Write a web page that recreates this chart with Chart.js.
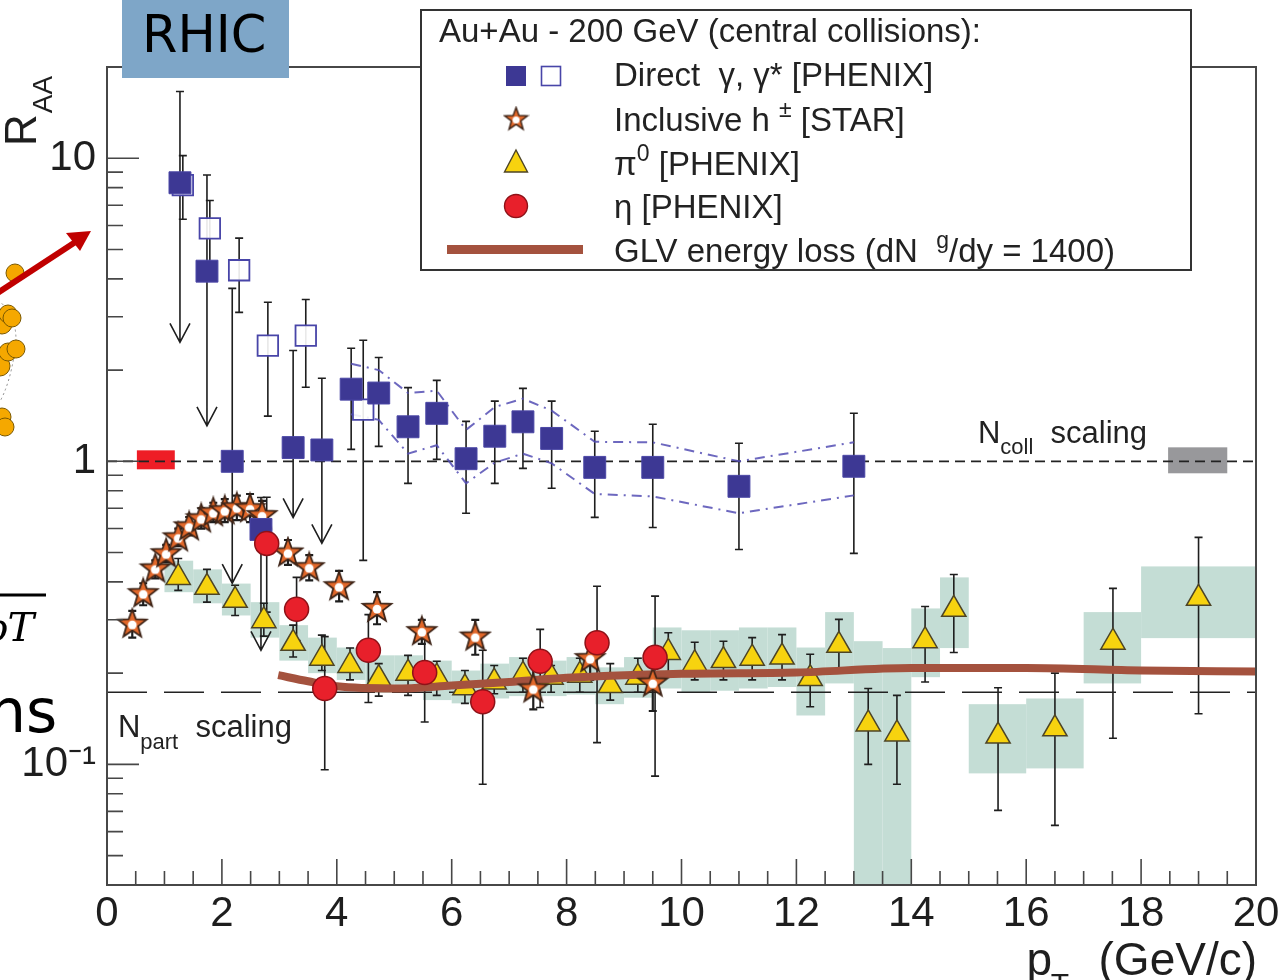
<!DOCTYPE html>
<html>
<head>
<meta charset="utf-8">
<title>R_AA at RHIC</title>
<script src="https://cdn.jsdelivr.net/npm/chart.js@4.4.1/dist/chart.umd.min.js"></script>
<style>
  body { margin: 0; background: #fff; overflow: hidden; }
  #wrap { position: relative; width: 1284px; height: 980px; }
  #canvas { position: absolute; left: 0; top: 0; }
  #deco { position: absolute; left: 0; top: 0; pointer-events: none; }
</style>
</head>
<body>
<div id="wrap">
  <canvas id="canvas" width="1284" height="980"></canvas>
  <svg id="deco" width="1284" height="980">
    <!-- bits of the slide that are cut off on the left -->
    <path d="M -2 300 Q 20 318 15 350 Q 10 385 -2 405" fill="none" stroke="#888" stroke-width="1" stroke-dasharray="2 3"/>
    <g fill="#f5a800" stroke="#7a5800" stroke-width="1">
      <circle cx="15" cy="273" r="9"/>
      <circle cx="2" cy="324" r="10"/>
      <circle cx="8" cy="314" r="9"/>
      <circle cx="12" cy="318" r="9"/>
      <circle cx="0" cy="366" r="10"/>
      <circle cx="8" cy="352" r="9"/>
      <circle cx="16" cy="349" r="9"/>
      <circle cx="2" cy="417" r="9"/>
      <circle cx="5" cy="427" r="9"/>
    </g>
    <line x1="-4" y1="294" x2="80" y2="239" stroke="#c00000" stroke-width="6"/>
    <polygon points="91,231 66,233 80,251" fill="#c00000"/>
    <line x1="0" y1="595" x2="46" y2="595" stroke="#000" stroke-width="3"/>
    <text x="-18" y="641" font-family="DejaVu Serif" font-style="italic" font-size="40">pT</text>
    <text x="-12" y="732" font-family="DejaVu Sans" font-size="60" fill="#000">ns</text>
    <rect x="122" y="0" width="167" height="78" fill="#7ea6c8"/>
    <text x="142" y="52" font-family="DejaVu Sans" font-size="51" fill="#000">RHIC</text>
  </svg>
</div>
<script>
"use strict";

// ---- data ----
// direct photons, PHENIX (filled squares); lim = 1 means the lower end is an upper-limit arrow
const dirX = [1.27, 1.74, 2.18, 2.68, 3.24, 3.74, 4.25, 4.73, 5.24, 5.74, 6.25, 6.75, 7.24, 7.74, 8.49, 9.50, 11.0, 13.0];
const dirY = [8.3, 4.24, 1.0, 0.596, 1.11, 1.09, 1.73, 1.68, 1.30, 1.44, 1.02, 1.21, 1.35, 1.19, 0.955, 0.955, 0.827, 0.963];
const dirHi = [16.6, 8.8, 3.72, 0.76, 2.32, 1.88, 2.36, 2.2, 1.75, 1.85, 1.355, 1.58, 1.74, 1.58, 1.256, 1.325, 1.147, 1.44];
const dirLo = [2.47, 1.31, 0.396, 0.238, 0.653, 0.536, 1.095, 1.12, 0.846, 1.015, 0.674, 0.846, 0.948, 0.815, 0.653, 0.605, 0.512, 0.497];
const dirLim = [1, 1, 1, 1, 1, 1, 0, 0, 0, 0, 0, 0, 0, 0, 0, 0, 0, 0];
// systematic band of the direct photons (dash-dot lines)
const bandX = [4.25, 4.73, 5.24, 5.74, 6.25, 6.75, 7.24, 7.74, 8.49, 9.50, 11.0, 13.0];
const bandUp = [2.1, 2.0, 1.68, 1.71, 1.27, 1.51, 1.61, 1.47, 1.16, 1.155, 1.0, 1.155];
const bandDn = [1.43, 1.37, 1.06, 1.13, 0.846, 0.99, 1.06, 0.985, 0.78, 0.766, 0.674, 0.772];

// virtual photons (open squares)
const gstX = [1.32, 1.79, 2.30, 2.80, 3.46, 4.46];
const gstY = [8.15, 5.87, 4.27, 2.41, 2.60, 1.48];
const gstHi = [10.2, 7.25, 5.45, 3.35, 3.42, 2.51];
const gstLo = [6.29, 4.5, 3.1, 1.41, 1.755, 0.471];

// inclusive charged hadrons, STAR
const hX = [0.44, 0.63, 0.84, 1.03, 1.24, 1.43, 1.64, 1.85, 2.05, 2.26, 2.49, 2.70, 3.15, 3.52, 4.04, 4.70, 5.48, 6.41, 7.42, 8.41, 9.50];
const hY = [0.291, 0.367, 0.443, 0.497, 0.561, 0.610, 0.648, 0.679, 0.689, 0.705, 0.70, 0.664, 0.50, 0.447, 0.387, 0.328, 0.275, 0.264, 0.178, 0.224, 0.186];
const hLo = [0.262, 0.335, 0.411, 0.465, 0.525, 0.57, 0.60, 0.63, 0.63, 0.64, 0.63, 0.60, 0.455, 0.405, 0.345, 0.29, 0.25, 0.23, 0.152, 0.19, 0.15];
const hHi = [0.321, 0.396, 0.471, 0.53, 0.60, 0.655, 0.70, 0.73, 0.75, 0.77, 0.78, 0.74, 0.55, 0.49, 0.435, 0.37, 0.30, 0.30, 0.21, 0.26, 0.22];

// pi0, PHENIX (triangles) with systematic boxes
const pi0X = [1.24, 1.74, 2.23, 2.73, 3.24, 3.74, 4.23, 4.73, 5.24, 5.74, 6.23, 6.74, 7.24, 7.73, 8.23, 8.76, 9.24, 9.77, 10.23, 10.73, 11.23, 11.75, 12.24, 12.74, 13.25, 13.75, 14.24, 14.74, 15.51, 16.50, 17.51, 19.0];
const pi0Y = [0.414, 0.384, 0.348, 0.298, 0.251, 0.224, 0.212, 0.192, 0.200, 0.194, 0.179, 0.187, 0.197, 0.194, 0.197, 0.182, 0.194, 0.234, 0.215, 0.22, 0.224, 0.226, 0.192, 0.247, 0.136, 0.126, 0.256, 0.325, 0.124, 0.131, 0.253, 0.353];
const pi0Hi = [0.478, 0.44, 0.39, 0.34, 0.288, 0.267, 0.242, 0.215, 0.229, 0.219, 0.204, 0.212, 0.224, 0.212, 0.224, 0.215, 0.224, 0.272, 0.253, 0.255, 0.262, 0.268, 0.231, 0.301, 0.178, 0.169, 0.332, 0.423, 0.179, 0.20, 0.381, 0.561];
const pi0Lo = [0.375, 0.343, 0.31, 0.265, 0.226, 0.204, 0.19, 0.168, 0.169, 0.169, 0.159, 0.171, 0.173, 0.173, 0.173, 0.163, 0.173, 0.196, 0.19, 0.19, 0.19, 0.19, 0.155, 0.201, 0.10, 0.086, 0.187, 0.234, 0.0705, 0.0629, 0.122, 0.147];
const pi0BinLo = [1.0, 1.5, 2.0, 2.5, 3.0, 3.5, 4.0, 4.5, 5.0, 5.5, 6.0, 6.5, 7.0, 7.5, 8.0, 8.5, 9.0, 9.5, 10.0, 10.5, 11.0, 11.5, 12.0, 12.5, 13.0, 13.5, 14.0, 14.5, 15, 16, 17, 18];
const pi0BinHi = [1.5, 2.0, 2.5, 3.0, 3.5, 4.0, 4.5, 5.0, 5.5, 6.0, 6.5, 7.0, 7.5, 8.0, 8.5, 9.0, 9.5, 10.0, 10.5, 11.0, 11.5, 12.0, 12.5, 13.0, 13.5, 14.0, 14.5, 15.0, 16, 17, 18, 20];
const pi0SysLo = [0.37, 0.34, 0.31, 0.262, 0.22, 0.20, 0.19, 0.172, 0.172, 0.163, 0.159, 0.165, 0.168, 0.168, 0.17, 0.158, 0.166, 0.178, 0.173, 0.175, 0.178, 0.18, 0.145, 0.185, 0.03, 0.03, 0.194, 0.242, 0.0934, 0.097, 0.185, 0.261];
const pi0SysHi = [0.47, 0.44, 0.395, 0.343, 0.288, 0.262, 0.243, 0.229, 0.229, 0.22, 0.204, 0.215, 0.226, 0.22, 0.226, 0.209, 0.226, 0.283, 0.277, 0.277, 0.283, 0.283, 0.243, 0.318, 0.255, 0.242, 0.327, 0.414, 0.158, 0.165, 0.318, 0.45];

// eta, PHENIX (circles)
const etaX = [2.78, 3.30, 3.79, 4.55, 5.53, 6.54, 7.54, 8.53, 9.54];
const etaY = [0.536, 0.325, 0.178, 0.238, 0.201, 0.161, 0.219, 0.252, 0.2255];
const etaHi = [0.761, 0.414, 0.264, 0.312, 0.259, 0.238, 0.279, 0.387, 0.359];
const etaLo = [0.318, 0.256, 0.096, 0.16, 0.138, 0.086, 0.154, 0.118, 0.0915];

// GLV energy loss curve, dN^g/dy = 1400
const glvX = [2.98, 3.5, 4.0, 5.0, 6.0, 7.0, 8.0, 10.0, 12.0, 14.0, 16.0, 18.0, 20.0];
const glvY = [0.197, 0.188, 0.181, 0.178, 0.182, 0.187, 0.193, 0.199, 0.201, 0.208, 0.208, 0.204, 0.2025];

// scaling levels and normalisation boxes (red: Ncoll at low pT, grey: right side)
const ncollLevel = 1.0;
const npartLevel = 0.173;
const normBoxX = [[0.52, 1.18], [18.47, 19.5]];
const normBoxY = [[0.941, 1.087], [0.913, 1.112]];

// axes
const xRange = [0, 20];
const yRange = [0.04, 20];
const yTickValues = [0.1, 1, 10];
const yTickLabels = ['10\u207B\u00B9', '1', '10'];

const FONT = '"Liberation Sans", Arial, Helvetica, sans-serif';
const INK = '#1e1e1e';

function pts(xs, ys, lo, hi, lim) {
    return xs.map((x, i) => ({ x: x, y: ys[i], lo: lo ? lo[i] : null, hi: hi ? hi[i] : null, lim: lim ? lim[i] : 0 }));
}

function makeStar(scale) {
    let c = document.createElement('canvas');
    c.width = 34 * scale; c.height = 34 * scale;
    let g = c.getContext('2d');
    g.translate(17 * scale, 17.5 * scale);
    g.scale(scale, scale);
    g.beginPath();
    for (let i = 0; i < 10; i++) {
        let r = i % 2 ? 6.2 : 15;
        let a = -Math.PI / 2 + i * Math.PI / 5;
        g.lineTo(r * Math.cos(a), r * Math.sin(a));
    }
    g.closePath();
    g.fillStyle = '#e2682a';
    g.fill();
    g.strokeStyle = '#3e2417';
    g.lineWidth = 1.8;
    g.stroke();
    g.beginPath();
    g.arc(0, 0.6, 4.4, 0, 2 * Math.PI);
    g.fillStyle = '#fff';
    g.fill();
    return c;
}
const starImg = makeStar(1);
const starSmall = makeStar(0.8);

function richText(ctx, parts, x, y, size) {
    let cx = x;
    parts.forEach(p => {
        let s = (p.sup || p.sub) ? Math.round(size * 0.7) : size;
        ctx.font = s + 'px ' + FONT;
        let dy = p.sup ? -size * 0.42 : (p.sub ? size * 0.36 : 0);
        ctx.fillText(p.t, cx, y + dy);
        cx += ctx.measureText(p.t).width;
    });
}

// boxes and error bars go under the markers
const underlay = {
    id: 'underlay',
    beforeDatasetsDraw(chart) {
        let ctx = chart.ctx, a = chart.chartArea, xs = chart.scales.x, ys = chart.scales.y;
        ctx.save();
        ctx.beginPath();
        ctx.rect(a.left, a.top, a.right - a.left, a.bottom - a.top);
        ctx.clip();

        ctx.fillStyle = '#c4ddd5';
        pi0X.forEach((v, i) => {
            let x0 = xs.getPixelForValue(pi0BinLo[i]), x1 = xs.getPixelForValue(pi0BinHi[i]);
            let y0 = ys.getPixelForValue(pi0SysHi[i]), y1 = ys.getPixelForValue(pi0SysLo[i]);
            ctx.fillRect(x0, y0, x1 - x0, y1 - y0);
        });

        let normColors = ['#ee1d26', '#98989b'];
        normBoxX.forEach((bx, i) => {
            let x0 = xs.getPixelForValue(bx[0]), x1 = xs.getPixelForValue(bx[1]);
            let y0 = ys.getPixelForValue(normBoxY[i][1]), y1 = ys.getPixelForValue(normBoxY[i][0]);
            ctx.fillStyle = normColors[i];
            ctx.fillRect(x0, y0, x1 - x0, y1 - y0);
        });

        ctx.strokeStyle = INK;
        chart.data.datasets.forEach(ds => {
            if (!ds.errors) return;
            ctx.lineWidth = ds.errWidth || 1.6;
            ds.data.forEach(p => {
                let px = xs.getPixelForValue(p.x);
                let yh = ys.getPixelForValue(p.hi), yl = ys.getPixelForValue(p.lo);
                ctx.beginPath();
                ctx.moveTo(px, yh); ctx.lineTo(px, yl);
                ctx.moveTo(px - 4, yh); ctx.lineTo(px + 4, yh);
                if (p.lim) {
                    ctx.moveTo(px - 10, yl - 19); ctx.lineTo(px, yl); ctx.lineTo(px + 10, yl - 19);
                } else {
                    ctx.moveTo(px - 4, yl); ctx.lineTo(px + 4, yl);
                }
                ctx.stroke();
            });
        });
        ctx.restore();
    }
};

// frame, inner ticks, texts and legend
const overlay = {
    id: 'overlay',
    afterDraw(chart) {
        let ctx = chart.ctx, a = chart.chartArea, xs = chart.scales.x, ys = chart.scales.y;
        ctx.save();
        ctx.strokeStyle = '#474747';
        ctx.lineWidth = 2;
        ctx.strokeRect(a.left, a.top, a.right - a.left, a.bottom - a.top);

        ctx.lineWidth = 1.6;
        ctx.beginPath();
        for (let k = 0; k <= 40; k++) {
            let v = k * 0.5;
            let px = xs.getPixelForValue(v);
            let len = k % 4 === 0 ? 26 : 14;
            ctx.moveTo(px, a.bottom); ctx.lineTo(px, a.bottom - len);
        }
        for (let e = -2; e <= 1; e++) {
            for (let m = 1; m <= 9; m++) {
                let v = m * Math.pow(10, e);
                if (v <= ys.min * 1.001 || v >= ys.max * 0.999) continue;
                let py = ys.getPixelForValue(v);
                ctx.moveTo(a.left, py); ctx.lineTo(a.left + (m === 1 ? 32 : 16), py);
            }
        }
        ctx.stroke();

        // scaling labels
        ctx.fillStyle = '#222';
        ctx.textBaseline = 'alphabetic';
        ctx.textAlign = 'left';
        richText(ctx, [{ t: 'N' }, { t: 'coll', sub: true }, { t: '  scaling' }],
            xs.getPixelForValue(15.16), ys.getPixelForValue(1.147), 31);
        richText(ctx, [{ t: 'N' }, { t: 'part', sub: true }, { t: '  scaling' }],
            xs.getPixelForValue(0.19), ys.getPixelForValue(0.1227), 31);

        // axis titles
        ctx.save();
        ctx.translate(36, 146);
        ctx.rotate(-Math.PI / 2);
        ctx.fillStyle = INK;
        ctx.font = '44px ' + FONT;
        ctx.fillText('R', 0, 0);
        let rw = ctx.measureText('R').width;
        ctx.font = '28px ' + FONT;
        ctx.fillText('AA', rw + 1, 16);
        ctx.restore();

        ctx.fillStyle = INK;
        ctx.textAlign = 'right';
        ctx.font = '46px ' + FONT;
        ctx.fillText('(GeV/c)', 1257, 975);
        ctx.font = '30px ' + FONT;
        ctx.fillText('T', 1069, 994);
        ctx.font = '46px ' + FONT;
        ctx.fillText('p', 1052, 975);
        ctx.textAlign = 'left';

        // legend
        ctx.fillStyle = '#fff';
        ctx.fillRect(421, 10, 770, 260);
        ctx.strokeStyle = '#333';
        ctx.lineWidth = 2;
        ctx.strokeRect(421, 10, 770, 260);

        ctx.fillStyle = '#222';
        ctx.font = '33px ' + FONT;
        ctx.fillText('Au+Au - 200 GeV (central collisions):', 439, 42);

        ctx.fillStyle = '#3d3894';
        ctx.fillRect(506, 66, 20, 20);
        ctx.fillStyle = '#fff';
        ctx.fillRect(541, 66, 20, 20);
        ctx.strokeStyle = '#4845a8';
        ctx.lineWidth = 1.6;
        ctx.strokeRect(541.5, 66.5, 19, 19);

        ctx.drawImage(starSmall, 516 - starSmall.width / 2, 119 - starSmall.height / 2);

        ctx.beginPath();
        ctx.moveTo(516, 150); ctx.lineTo(527.5, 172); ctx.lineTo(504.5, 172); ctx.closePath();
        ctx.fillStyle = '#f7d30f'; ctx.fill();
        ctx.strokeStyle = '#4d4426'; ctx.lineWidth = 1.4; ctx.stroke();

        ctx.beginPath();
        ctx.arc(516, 206, 11.5, 0, 2 * Math.PI);
        ctx.fillStyle = '#e8202b'; ctx.fill();
        ctx.strokeStyle = '#8e1218'; ctx.lineWidth = 1.4; ctx.stroke();

        ctx.fillStyle = '#a4523e';
        ctx.fillRect(447, 245, 136, 9);

        ctx.fillStyle = '#222';
        richText(ctx, [{ t: 'Direct  \u03B3, \u03B3* [PHENIX]' }], 614, 86, 33);
        richText(ctx, [{ t: 'Inclusive h ' }, { t: '\u00B1', sup: true }, { t: ' [STAR]' }], 614, 131, 33);
        richText(ctx, [{ t: '\u03C0' }, { t: '0', sup: true }, { t: ' [PHENIX]' }], 614, 175, 33);
        richText(ctx, [{ t: '\u03B7 [PHENIX]' }], 614, 218, 33);
        richText(ctx, [{ t: 'GLV energy loss (dN  ' }, { t: 'g', sup: true }, { t: '/dy = 1400)' }], 614, 262, 33);
        ctx.restore();
    }
};

const chart = new Chart(document.getElementById('canvas'), {
    type: 'scatter',
    data: {
        datasets: [
            {
                label: '\u03B7 [PHENIX]', data: pts(etaX, etaY, etaLo, etaHi),
                pointStyle: 'circle', pointRadius: 12, backgroundColor: '#e8202b',
                borderColor: '#8e1218', borderWidth: 1.5, order: 1, errors: true
            },
            {
                label: 'Direct \u03B3 [PHENIX]', data: pts(dirX, dirY, dirLo, dirHi, dirLim),
                pointStyle: 'rect', pointRadius: 15.5, backgroundColor: '#3d3894',
                borderColor: '#4b47a6', borderWidth: 1, order: 2, errors: true
            },
            {
                label: 'Direct \u03B3* [PHENIX]', data: pts(gstX, gstY, gstLo, gstHi),
                pointStyle: 'rect', pointRadius: 14.5, backgroundColor: 'rgba(255,255,255,0.9)',
                borderColor: '#4845a8', borderWidth: 1.8, order: 3, errors: true
            },
            {
                label: 'Inclusive h\u00B1 [STAR]', data: pts(hX, hY, hLo, hHi),
                pointStyle: starImg, pointRadius: 14, order: 4, errors: true, errWidth: 2.2
            },
            {
                label: 'GLV energy loss', data: pts(glvX, glvY),
                showLine: true, borderColor: '#a4523e', borderWidth: 8, pointRadius: 0,
                cubicInterpolationMode: 'monotone', order: 5
            },
            {
                label: '\u03C0\u2070 [PHENIX]', data: pts(pi0X, pi0Y, pi0Lo, pi0Hi),
                pointStyle: 'triangle', pointRadius: 14, backgroundColor: '#f7d30f',
                borderColor: '#4d4426', borderWidth: 1.5, order: 6, errors: true
            },
            {
                label: 'band up', data: pts(bandX, bandUp),
                showLine: true, borderColor: 'rgba(84,78,180,0.85)', borderWidth: 2,
                borderDash: [10, 6, 2, 6], pointRadius: 0, order: 7
            },
            {
                label: 'band down', data: pts(bandX, bandDn),
                showLine: true, borderColor: 'rgba(84,78,180,0.85)', borderWidth: 2,
                borderDash: [10, 6, 2, 6], pointRadius: 0, order: 8
            },
            {
                label: 'Ncoll scaling', data: pts(xRange, [ncollLevel, ncollLevel]),
                showLine: true, borderColor: '#222', borderWidth: 1.7,
                borderDash: [10, 6], pointRadius: 0, order: 9
            },
            {
                label: 'Npart scaling', data: pts(xRange, [npartLevel, npartLevel]),
                showLine: true, borderColor: '#222', borderWidth: 1.7,
                borderDash: [40, 17], pointRadius: 0, order: 10
            }
        ]
    },
    options: {
        responsive: false,
        animation: false,
        layout: { padding: { top: 67, right: 28, left: 0, bottom: 0 } },
        plugins: { legend: { display: false }, tooltip: { enabled: false } },
        scales: {
            x: {
                type: 'linear', min: xRange[0], max: xRange[1],
                grid: { display: false, drawTicks: false }, border: { display: false },
                ticks: { stepSize: 2, autoSkip: false, maxRotation: 0, padding: 4, color: INK, font: { family: FONT, size: 42 } },
                afterFit(s) { s.height = 95; }
            },
            y: {
                type: 'logarithmic', min: yRange[0], max: yRange[1],
                grid: { display: false, drawTicks: false }, border: { display: false },
                ticks: {
                    autoSkip: false, padding: 11, color: INK, font: { family: FONT, size: 42 },
                    callback(v) {
                        let i = yTickValues.findIndex(t => Math.abs(t - v) / t < 1e-6);
                        return i < 0 ? '' : yTickLabels[i];
                    }
                },
                afterFit(s) { s.width = 107; }
            }
        }
    },
    plugins: [underlay, overlay]
});
</script>
</body>
</html>
